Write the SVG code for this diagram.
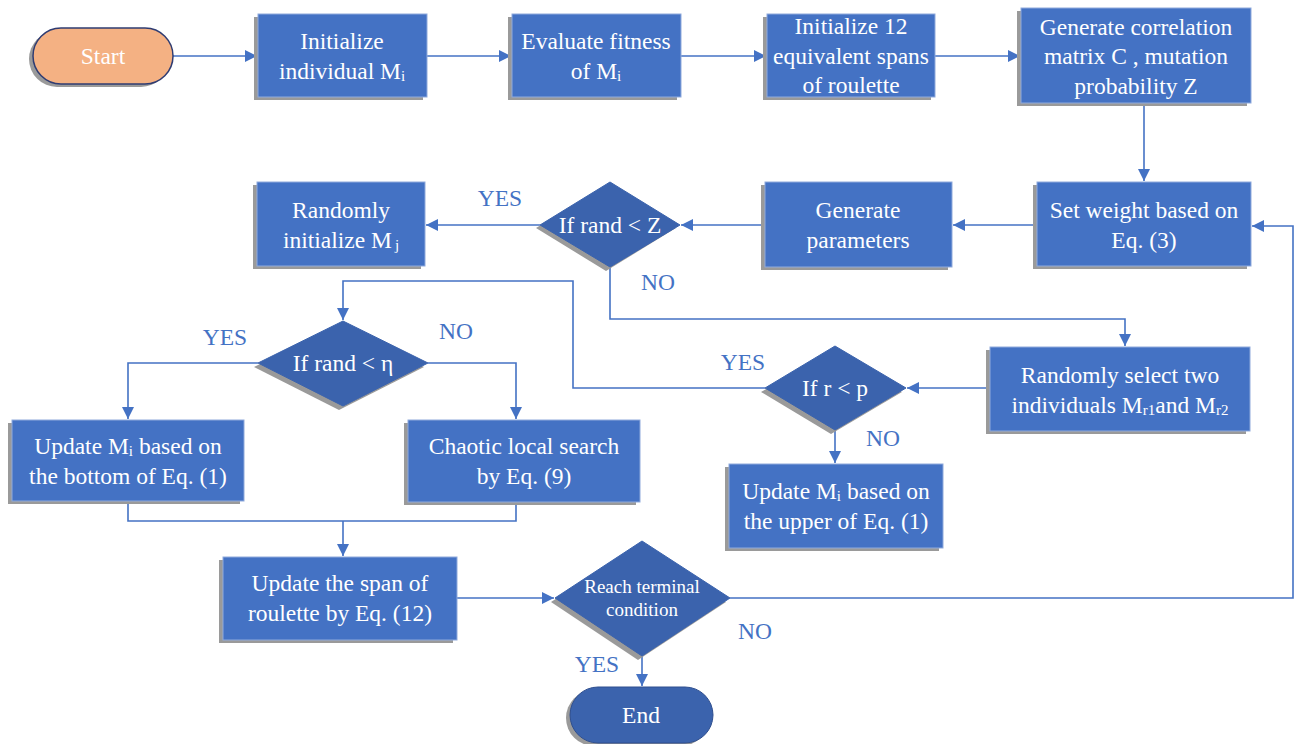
<svg xmlns="http://www.w3.org/2000/svg" width="1301" height="744" viewBox="0 0 1301 744">
<defs>
<marker id="ah" markerUnits="userSpaceOnUse" markerWidth="13" markerHeight="13" refX="12" refY="6" orient="auto">
<path d="M0,0 L12,6 L0,12 z" fill="#4472C4"/>
</marker>
<style>
.box{fill:#4472C4;stroke:#8FAADC;stroke-width:1}
.dia{fill:#3B63AD;stroke:#3B63AD;stroke-width:1}
.sh{fill:#9A9A9A}
.t{font-family:"Liberation Serif","Times New Roman",serif;font-size:23.5px;fill:#FFFFFF;text-anchor:middle}
.ts{font-family:"Liberation Serif","Times New Roman",serif;font-size:19px;fill:#FFFFFF;text-anchor:middle}
.lbl{font-family:"Liberation Serif","Times New Roman",serif;font-size:23.5px;fill:#4472C4;text-anchor:middle}
.c{fill:none;stroke:#4472C4;stroke-width:1.6}
.sub{font-size:15px}
</style>
</defs>
<rect width="1301" height="744" fill="#FFFFFF"/>

<g id="connectors">
<path class="c" d="M173,56 H257" marker-end="url(#ah)"/>
<path class="c" d="M427,56 H511" marker-end="url(#ah)"/>
<path class="c" d="M681,56 H766" marker-end="url(#ah)"/>
<path class="c" d="M935,56 H1020" marker-end="url(#ah)"/>
<path class="c" d="M1144,103 V181" marker-end="url(#ah)"/>
<path class="c" d="M1037,225 H953" marker-end="url(#ah)"/>
<path class="c" d="M765,225 H681" marker-end="url(#ah)"/>
<path class="c" d="M540,225 H426" marker-end="url(#ah)"/>
<path class="c" d="M610,267 V319 H1125 V346" marker-end="url(#ah)"/>
<path class="c" d="M990,388 H907" marker-end="url(#ah)"/>
<path class="c" d="M765,388 H573 V281 H343 V320" marker-end="url(#ah)"/>
<path class="c" d="M835,430 V463" marker-end="url(#ah)"/>
<path class="c" d="M258,363 H128 V419" marker-end="url(#ah)"/>
<path class="c" d="M428,363 H516 V419" marker-end="url(#ah)"/>
<path class="c" d="M128,501 V521 H516 V502"/>
<path class="c" d="M343,521 V556" marker-end="url(#ah)"/>
<path class="c" d="M457,598 H554" marker-end="url(#ah)"/>
<path class="c" d="M730,598 H1293 V226 H1252" marker-end="url(#ah)"/>
<path class="c" d="M642,656 V686" marker-end="url(#ah)"/>
</g>

<g id="start">
<rect class="sh" x="29" y="31" width="140" height="56" rx="28"/>
<rect x="33" y="28" width="140" height="56" rx="28" fill="#F4B183" stroke="#2F3C72" stroke-width="1.5"/>
<text class="t" x="103" y="64">Start</text>
</g>

<g id="init-individual">
<rect class="sh" x="254" y="17" width="169" height="83"/>
<rect class="box" x="258" y="14" width="169" height="83"/>
<text class="t" x="342" y="49">Initialize</text>
<text class="t" x="342" y="79">individual M<tspan class="sub" dy="2">i</tspan></text>
</g>

<g id="evaluate-fitness">
<rect class="sh" x="508" y="17" width="169" height="83"/>
<rect class="box" x="512" y="14" width="169" height="83"/>
<text class="t" x="596" y="49">Evaluate fitness</text>
<text class="t" x="596" y="79">of M<tspan class="sub" dy="2">i</tspan></text>
</g>

<g id="init-spans">
<rect class="sh" x="763" y="17" width="168" height="83"/>
<rect class="box" x="767" y="14" width="168" height="83"/>
<text class="t" x="851" y="34">Initialize 12</text>
<text class="t" x="851" y="64">equivalent spans</text>
<text class="t" x="851" y="93">of roulette</text>
</g>

<g id="gen-matrix">
<rect class="sh" x="1017" y="11" width="230" height="95"/>
<rect class="box" x="1021" y="8" width="230" height="95"/>
<text class="t" x="1136" y="35">Generate correlation</text>
<text class="t" x="1136" y="64">matrix C , mutation</text>
<text class="t" x="1136" y="94">probability Z</text>
</g>

<g id="set-weight">
<rect class="sh" x="1033" y="185" width="214" height="84"/>
<rect class="box" x="1037" y="182" width="214" height="84"/>
<text class="t" x="1144" y="218">Set weight based on</text>
<text class="t" x="1144" y="248">Eq. (3)</text>
</g>

<g id="gen-params">
<rect class="sh" x="761" y="185" width="187" height="85"/>
<rect class="box" x="765" y="182" width="187" height="85"/>
<text class="t" x="858" y="218">Generate</text>
<text class="t" x="858" y="248">parameters</text>
</g>

<g id="if-rand-z">
<polygon class="sh" points="606,186 676,228 606,271 536,228"/>
<polygon class="dia" points="610,182 680,225 610,267 540,225"/>
<text class="t" x="610" y="233">If rand &lt; Z</text>
</g>

<g id="rand-init">
<rect class="sh" x="253" y="185" width="168" height="84"/>
<rect class="box" x="257" y="182" width="168" height="84"/>
<text class="t" x="341" y="218">Randomly</text>
<text class="t" x="341" y="248">initialize M<tspan class="sub" dx="3" dy="2">j</tspan></text>
</g>

<g id="if-rand-eta">
<polygon class="sh" points="339,325 424,367 339,410 254,367"/>
<polygon class="dia" points="343,321 428,363 343,406 258,363"/>
<text class="t" x="343" y="371">If rand &lt; η</text>
</g>

<g id="update-bottom">
<rect class="sh" x="8" y="423" width="232" height="81"/>
<rect class="box" x="12" y="420" width="232" height="81"/>
<text class="t" x="128" y="454">Update M<tspan class="sub" dy="2">i</tspan><tspan dy="-2"> based on</tspan></text>
<text class="t" x="128" y="484">the bottom of Eq. (1)</text>
</g>

<g id="chaotic">
<rect class="sh" x="404" y="423" width="232" height="82"/>
<rect class="box" x="408" y="420" width="232" height="82"/>
<text class="t" x="524" y="454">Chaotic local search</text>
<text class="t" x="524" y="484">by Eq. (9)</text>
</g>

<g id="rand-select">
<rect class="sh" x="986" y="350" width="260" height="84"/>
<rect class="box" x="990" y="347" width="260" height="84"/>
<text class="t" x="1120" y="383">Randomly select two</text>
<text class="t" x="1120" y="413">individuals M<tspan class="sub" dy="2">r1</tspan><tspan dy="-2">and M</tspan><tspan class="sub" dy="2">r2</tspan></text>
</g>

<g id="if-r-p">
<polygon class="sh" points="831,350 902,392 831,434 761,392"/>
<polygon class="dia" points="835,346 906,388 835,430 765,388"/>
<text class="t" x="835" y="396">If r &lt; p</text>
</g>

<g id="update-upper">
<rect class="sh" x="725" y="467" width="214" height="84"/>
<rect class="box" x="729" y="464" width="214" height="84"/>
<text class="t" x="836" y="499">Update M<tspan class="sub" dy="2">i</tspan><tspan dy="-2"> based on</tspan></text>
<text class="t" x="836" y="529">the upper of Eq. (1)</text>
</g>

<g id="update-span">
<rect class="sh" x="219" y="560" width="234" height="83"/>
<rect class="box" x="223" y="557" width="234" height="83"/>
<text class="t" x="340" y="591">Update the span of</text>
<text class="t" x="340" y="621">roulette by Eq. (12)</text>
</g>

<g id="terminal">
<polygon class="sh" points="638,545 726,602 638,660 551,602"/>
<polygon class="dia" points="642,541 730,598 642,656 555,598"/>
<text class="ts" x="642" y="593">Reach terminal</text>
<text class="ts" x="642" y="616">condition</text>
</g>

<g id="end">
<rect class="sh" x="566" y="690" width="143" height="56" rx="28"/>
<rect x="570" y="687" width="143" height="56" rx="28" fill="#3B63AD" stroke="#2F4F8F" stroke-width="1"/>
<text class="t" x="641" y="723">End</text>
</g>

<g id="labels">
<text class="lbl" x="500" y="206">YES</text>
<text class="lbl" x="658" y="290">NO</text>
<text class="lbl" x="225" y="345">YES</text>
<text class="lbl" x="456" y="339">NO</text>
<text class="lbl" x="743" y="370">YES</text>
<text class="lbl" x="883" y="446">NO</text>
<text class="lbl" x="755" y="639">NO</text>
<text class="lbl" x="597" y="672">YES</text>
</g>
</svg>
